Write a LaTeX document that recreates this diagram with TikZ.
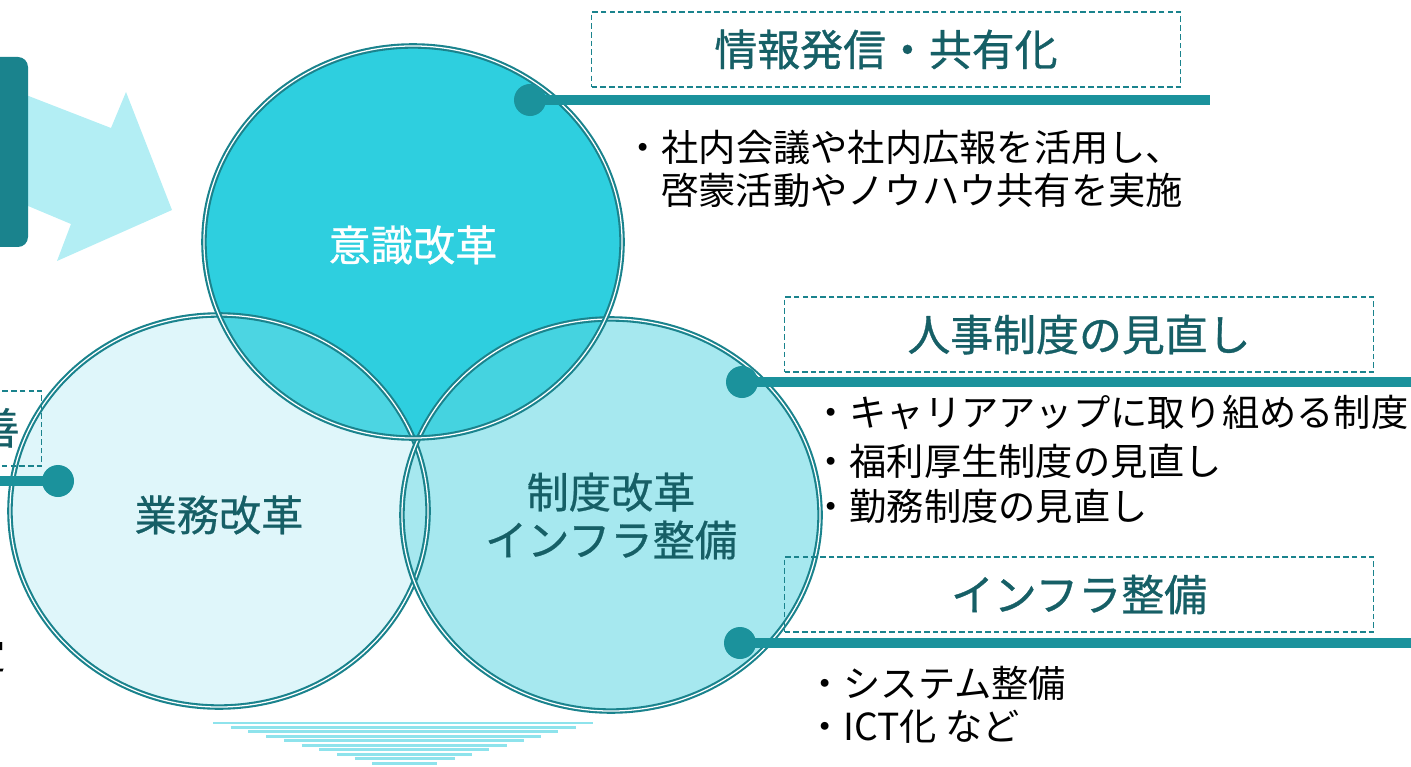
\documentclass[tikz,border=0pt]{standalone}
\usepackage{fontspec}
\setmainfont{Noto Sans CJK JP}
\definecolor{tealdark}{HTML}{1A838D}
\definecolor{tealline}{HTML}{1B929C}
\definecolor{tealtext}{HTML}{165F66}
\definecolor{cyantop}{HTML}{2ECFDF}
\definecolor{cyanright}{HTML}{A6E8EF}
\definecolor{cyanleft}{HTML}{DFF6FA}
\definecolor{lenstl}{HTML}{4CD5E2}
\definecolor{lenstr}{HTML}{45D3E0}
\definecolor{arrowfill}{HTML}{B3EEF4}
\definecolor{stripe}{HTML}{8EE3EC}

\begin{document}
\begin{tikzpicture}[
  x=0.025cm, y=-0.025cm,
  ring/.style={draw=tealdark,double=white,line width=1.5pt,double distance=0.9pt},
  oval/.style={x radius=5.225cm,y radius=4.9cm},
  headbox/.style={draw=tealdark,dash pattern=on 4pt off 2.2pt,line width=1.3pt,
    minimum width=14.72cm,minimum height=1.875cm,inner sep=0pt,
    text=tealtext,font=\fontsize{30.5pt}{36pt}\selectfont\addfontfeature{FakeBold=0.8}},
  circlabel/.style={text=tealtext,align=center,
    font=\fontsize{30pt}{34pt}\selectfont\addfontfeature{FakeBold=0.6}},
  bar/.style={draw=tealline,line width=7pt},
  dot/.style={circle,fill=tealline,minimum size=0.8cm,inner sep=0pt},
  bullet/.style={anchor=west,inner sep=0pt,font=\fontsize{26.5pt}{30pt}\selectfont}
]
  \clip (0,0) rectangle (1411,767);

  \fill[arrowfill] (-10,81) -- (111,128) -- (126,92) -- (172,210)
    -- (57,261) -- (71,224) -- (-10,190) -- cycle;
  \fill[tealdark,rounded corners=0.25cm] (-40,57) rectangle (28,247);

  \coordinate (ctop) at (413,242);
  \coordinate (cleft) at (219,511);
  \coordinate (cright) at (611,515);

  \fill[cyanleft] (cleft) ellipse [oval];
  \fill[cyanright] (cright) ellipse [oval];
  \fill[cyantop] (ctop) ellipse [oval];
  \begin{scope}
    \clip (ctop) ellipse [oval];
    \fill[lenstl] (cleft) ellipse [oval];
    \fill[lenstr] (cright) ellipse [oval];
  \end{scope}
  \draw[ring] (cleft) ellipse [oval];
  \draw[ring] (cright) ellipse [oval];
  \draw[ring] (ctop) ellipse [oval];

  \node[circlabel,text=white] (labtop) at (413,245) {意識改革};
  \node[circlabel] (lableft) at (219,515) {業務改革};
  \node[circlabel] (labright) at (611,516) {制度改革\\インフラ整備};

  \node[headbox] (boxwork) at (-253,428.5) {};
  \node[anchor=east,inner sep=0pt,text=tealtext,
    font=\fontsize{30.5pt}{36pt}\selectfont\addfontfeature{FakeBold=0.8}]
    (headwork) at (20,428) {改善};
  \coordinate (startwork) at (-20,481);
  \node[dot] (dotwork) at (58,481) {};
  \draw[bar] (startwork) -- (dotwork.center);
  \node[bullet,anchor=east] (itemwork) at (6,655) {定};

  \node[headbox] (boxinfo) at (886,49.5) {情報発信・共有化};
  \node[dot] (dotinfo) at (530,100) {};
  \coordinate (endinfo) at (1210,100);
  \draw[bar] (dotinfo.center) -- (endinfo);
  \node[bullet] (iteminfoa) at (624,147) {・社内会議や社内広報を活用し、};
  \node[bullet] (iteminfob) at (661,190) {啓蒙活動やノウハウ共有を実施};

  \node[headbox] (boxhr) at (1079,334.5) {人事制度の見直し};
  \node[dot] (dothr) at (742,382) {};
  \coordinate (endhr) at (1420,382);
  \draw[bar] (dothr.center) -- (endhr);
  \node[bullet] (itemhra) at (812,413) {・キャリアアップに取り組める制度};
  \node[bullet] (itemhrb) at (812,461) {・福利厚生制度の見直し};
  \node[bullet] (itemhrc) at (812,506) {・勤務制度の見直し};

  \node[headbox] (boxinfra) at (1079,594.5) {インフラ整備};
  \node[dot] (dotinfra) at (740,643) {};
  \coordinate (endinfra) at (1420,643);
  \draw[bar] (dotinfra.center) -- (endinfra);
  \node[bullet] (iteminfraa) at (806,683) {・システム整備};
  \node[bullet] (iteminfrab) at (806,727) {・ICT化 など};

  \foreach \i in {0,...,9}
    \draw[stripe,line width=2.1pt] ({213+17.7*\i},{723+4.45*\i}) -- ({593-17.3*\i},{723+4.45*\i});
\end{tikzpicture}
\end{document}
